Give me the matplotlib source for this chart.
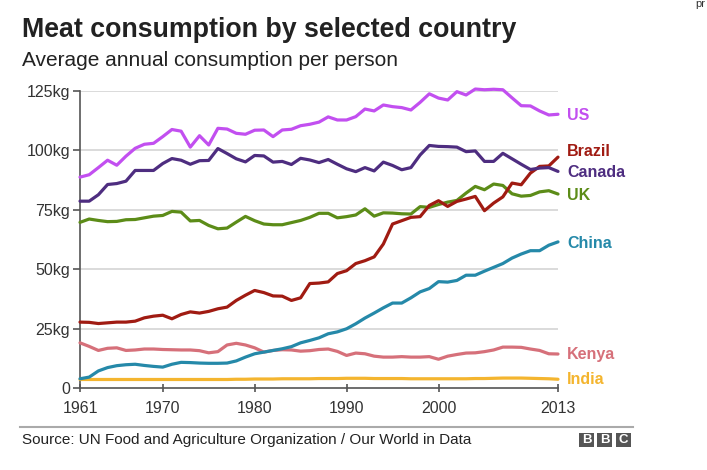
import matplotlib
matplotlib.use("Agg")
import matplotlib.pyplot as plt
from matplotlib.patches import Rectangle
import numpy as np

plt.rcParams['font.family'] = ['Liberation Sans', 'DejaVu Sans']

years = list(range(1961, 2014))

us = [88.7, 89.7, 92.7, 95.8, 93.7, 97.5, 100.8, 102.5, 102.9, 105.7,
      108.7, 108.0, 101.3, 106.1, 102.2, 109.2, 108.9, 107.1, 106.7, 108.4,
      108.5, 105.7, 108.5, 108.8, 110.3, 110.9, 111.8, 114.0, 112.7, 112.7,
      114.1, 117.3, 116.5, 119.0, 118.3, 117.9, 116.9, 120.1, 123.7, 121.9,
      121.1, 124.6, 123.2, 125.7, 125.4, 125.6, 125.4, 122.0, 118.7, 118.6,
      116.5, 114.8, 115.1]
canada = [78.6, 78.6, 81.3, 85.6, 86.0, 87.0, 91.5, 91.5, 91.5, 94.4,
          96.5, 95.8, 94.1, 95.6, 95.7, 100.7, 98.6, 96.4, 95.1, 97.8,
          97.6, 95.0, 95.3, 94.0, 96.6, 95.9, 94.8, 96.1, 94.1, 92.2,
          91.0, 92.7, 91.3, 95.0, 93.6, 91.8, 92.7, 98.0, 102.0, 101.6,
          101.5, 101.3, 99.4, 99.7, 95.3, 95.3, 98.7, 96.4, 94.1, 91.9,
          92.5, 92.7, 91.1]
uk = [69.7, 71.1, 70.5, 70.0, 70.1, 70.8, 70.9, 71.6, 72.3, 72.6,
      74.3, 74.0, 70.3, 70.5, 68.4, 67.0, 67.3, 69.8, 72.2, 70.4,
      69.0, 68.7, 68.7, 69.6, 70.5, 71.8, 73.5, 73.5, 71.6, 72.1,
      72.8, 75.4, 72.3, 73.7, 73.6, 73.3, 73.2, 76.3, 76.0, 77.2,
      78.2, 78.9, 82.0, 84.8, 83.4, 85.8, 85.2, 81.7, 80.7, 81.0,
      82.5, 83.0, 81.6]
brazil = [27.8, 27.7, 27.2, 27.5, 27.8, 27.8, 28.2, 29.6, 30.3, 30.7,
          29.2, 31.0, 32.1, 31.6, 32.3, 33.4, 34.1, 36.9, 39.1, 41.1,
          40.2, 38.8, 38.7, 36.9, 38.0, 44.0, 44.2, 44.7, 48.2, 49.4,
          52.4, 53.6, 55.2, 60.6, 69.0, 70.4, 71.8, 72.1, 76.8, 78.8,
          76.4, 78.5, 79.5, 80.6, 74.6, 77.8, 80.4, 86.2, 85.5, 90.4,
          93.2, 93.4, 97.1]
china = [4.0, 4.7, 7.3, 8.7, 9.5, 9.9, 10.1, 9.6, 9.2, 8.9,
         10.1, 10.9, 10.8, 10.6, 10.5, 10.5, 10.6, 11.5, 13.1, 14.5,
         15.2, 15.9, 16.6, 17.5, 19.1, 20.1, 21.2, 22.9, 23.7, 25.0,
         27.1, 29.5, 31.6, 33.8, 35.8, 35.8, 38.0, 40.5, 41.9, 44.8,
         44.6, 45.3, 47.5, 47.5, 49.2, 50.8, 52.4, 54.7, 56.4, 57.8,
         57.8, 60.1, 61.5]
kenya = [19.1, 17.6, 15.9, 16.8, 17.0, 15.9, 16.1, 16.5, 16.5, 16.3,
         16.2, 16.1, 16.1, 15.8, 14.9, 15.4, 18.2, 18.9, 18.2, 17.0,
         15.2, 15.9, 16.2, 16.1, 15.6, 15.8, 16.3, 16.5, 15.5, 13.8,
         14.8, 14.5, 13.5, 13.1, 13.1, 13.3, 13.1, 13.1, 13.3, 12.2,
         13.5, 14.2, 14.8, 14.9, 15.4, 16.1, 17.3, 17.3, 17.2, 16.5,
         15.9, 14.5, 14.4]
india = [3.7, 3.7, 3.7, 3.7, 3.7, 3.7, 3.7, 3.7, 3.7, 3.7,
         3.7, 3.7, 3.7, 3.7, 3.7, 3.7, 3.7, 3.8, 3.8, 3.9,
         3.9, 3.9, 4.0, 4.0, 4.0, 4.0, 4.1, 4.1, 4.1, 4.2,
         4.2, 4.2, 4.1, 4.1, 4.1, 4.1, 4.0, 4.0, 4.0, 4.0,
         4.0, 4.0, 4.0, 4.1, 4.1, 4.2, 4.3, 4.3, 4.3, 4.2,
         4.1, 4.0, 3.8]

series_names = ["US", "Brazil", "Canada", "UK", "China", "Kenya", "India"]
series_values = [us, brazil, canada, uk, china, kenya, india]
colors = ["#c24ff0", "#a01b12", "#4e2d80", "#5c8c18", "#2589a9", "#d6707a", "#f4b52f"]
label_y = [115, 152, 173, 196, 243, 355, 380]  # pixel positions of end labels

y_ticks = [0, 25, 50, 75, 100, 125]
y_tick_labels = ["0", "25kg", "50kg", "75kg", "100kg", "125kg"]
x_ticks = [1961, 1970, 1980, 1990, 2000, 2013]
x_tick_labels = ["1961", "1970", "1980", "1990", "2000", "2013"]

W, H = 707, 470
fig = plt.figure(figsize=(W / 100, H / 100), dpi=100)
fig.patch.set_facecolor("white")

ax = fig.add_axes([80 / W, 1 - 388.3 / H, 478 / W, (388.3 - 90.7) / H])
order = [6, 5, 4, 3, 1, 2, 0]
for i in order:
    ax.plot(years, series_values[i], color=colors[i], lw=2.3, solid_joinstyle="round",
            solid_capstyle="round", zorder=3, clip_on=False)

ax.set_xlim(1961, 2013)
ax.set_ylim(0, 125)
ax.set_yticks(y_ticks)
ax.set_yticklabels(y_tick_labels)
ax.set_xticks(x_ticks)
ax.set_xticklabels(x_tick_labels)
for v in y_ticks[1:]:
    ax.axhline(v, color="#d4d4d4", lw=1.2, zorder=1)
for s in ["top", "right"]:
    ax.spines[s].set_visible(False)
for s in ["left", "bottom"]:
    ax.spines[s].set_color("#555555")
    ax.spines[s].set_linewidth(1.2)
ax.tick_params(axis="y", length=5, width=1.2, color="#555555", labelsize=11.5,
               labelcolor="#333333", pad=2)
ax.tick_params(axis="x", length=6, width=1.2, color="#555555", labelsize=11.5,
               labelcolor="#333333", pad=6, direction="inout")

for name, c, py in zip(series_names, colors, label_y):
    fig.text(567 / W, 1 - py / H, name, color=c, fontsize=11.5, fontweight="bold",
             ha="left", va="center")

fig.text(22 / W, 1 - 30 / H, "Meat consumption by selected country", fontsize=19.3,
         fontweight="bold", color="#222222", ha="left", va="center")
fig.text(22 / W, 1 - 60 / H, "Average annual consumption per person", fontsize=15,
         color="#222222", ha="left", va="center")
fig.text(22 / W, 1 - 440 / H,
         "Source: UN Food and Agriculture Organization / Our World in Data",
         fontsize=11, color="#222222", ha="left", va="center")
fig.text(695 / W, 1 - 4 / H, "pr", fontsize=8, color="#333333", ha="left", va="center")

fig.add_artist(plt.Line2D([20 / W, 633 / W], [1 - 427 / H, 1 - 427 / H],
                          transform=fig.transFigure, color="#aaaaaa", lw=1.5))
for k, letter in enumerate("BBC"):
    x0 = 579 + k * 18.3
    fig.add_artist(Rectangle((x0 / W, 1 - 447 / H), 15 / W, 14 / H,
                             transform=fig.transFigure, color="#555555", lw=0))
    fig.text((x0 + 7.5) / W, 1 - 440 / H, letter, color="white", fontsize=9.5,
             fontweight="bold", ha="center", va="center")

fig.savefig("out.png", dpi=100, facecolor="white")
